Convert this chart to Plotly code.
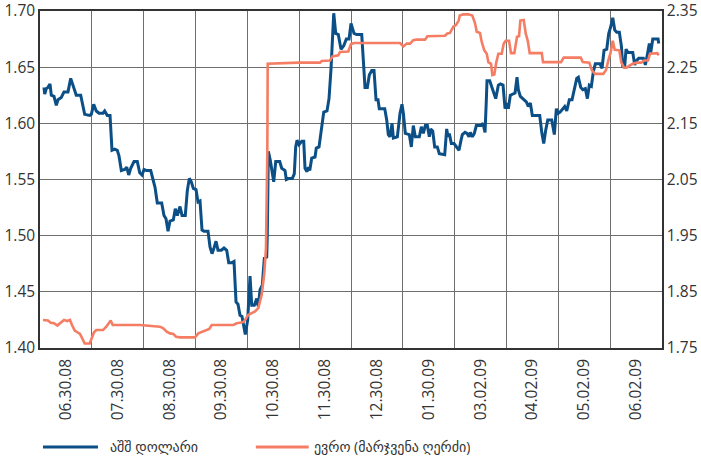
import plotly.graph_objects as go

# x-axis period labels (each label covers one interval of the category-style axis)
period_labels = ["06.30.08", "07.30.08", "08.30.08", "09.30.08", "10.30.08", "11.30.08",
                 "12.30.08", "01.30.09", "03.02.09", "04.02.09", "05.02.09", "06.02.09"]

# USD (left axis): position in periods (0..12) and value
usd_x = [0.077, 0.091, 0.122, 0.154, 0.193, 0.218, 0.270, 0.314, 0.347, 0.411, 0.463, 0.540,
         0.592, 0.637, 0.700, 0.785, 0.862, 0.959, 0.990, 1.036, 1.086, 1.138, 1.216, 1.248,
         1.298, 1.351, 1.389, 1.441, 1.491, 1.524, 1.569, 1.634, 1.673, 1.711, 1.750, 1.814,
         1.877, 1.924, 1.968, 2.007, 2.059, 2.136, 2.186, 2.219, 2.263, 2.348, 2.392, 2.431,
         2.470, 2.508, 2.572, 2.610, 2.649, 2.701, 2.740, 2.803, 2.842, 2.881, 2.919, 2.958,
         3.010, 3.048, 3.087, 3.126, 3.164, 3.241, 3.280, 3.319, 3.357, 3.396, 3.434, 3.498,
         3.550, 3.602, 3.641, 3.704, 3.743, 3.782, 3.820, 3.859, 3.897, 3.936, 3.961, 4.007,
         4.052, 4.085, 4.135, 4.181, 4.212, 4.245, 4.289, 4.328, 4.374, 4.386, 4.405, 4.443,
         4.482, 4.509, 4.548, 4.625, 4.663, 4.727, 4.752, 4.804, 4.868, 4.906, 4.933, 4.959,
         4.997, 5.049, 5.088, 5.113, 5.151, 5.177, 5.204, 5.242, 5.306, 5.331, 5.383, 5.422,
         5.474, 5.537, 5.576, 5.615, 5.640, 5.667, 5.705, 5.755, 5.807, 5.860, 5.910, 5.962,
         6.000, 6.058, 6.110, 6.207, 6.238, 6.270, 6.315, 6.353, 6.400, 6.444, 6.483, 6.521,
         6.546, 6.651, 6.689, 6.720, 6.753, 6.792, 6.817, 6.894, 6.946, 6.984, 7.010, 7.048,
         7.125, 7.164, 7.202, 7.241, 7.318, 7.357, 7.395, 7.434, 7.473, 7.511, 7.538, 7.577,
         7.615, 7.665, 7.704, 7.808, 7.846, 7.872, 7.897, 7.936, 7.988, 8.040, 8.084, 8.123,
         8.148, 8.200, 8.238, 8.277, 8.302, 8.341, 8.379, 8.418, 8.509, 8.547, 8.586, 8.611,
         8.624, 8.676, 8.715, 8.754, 8.792, 8.843, 8.881, 8.933, 8.972, 9.010, 9.035, 9.074,
         9.165, 9.203, 9.228, 9.267, 9.344, 9.383, 9.421, 9.460, 9.498, 9.641, 9.680, 9.718,
         9.757, 9.796, 9.873, 9.923, 9.962, 10.000, 10.033, 10.085, 10.123, 10.162, 10.212, 10.264,
         10.303, 10.355, 10.386, 10.432, 10.471, 10.521, 10.560, 10.598, 10.637, 10.676, 10.714, 10.805,
         10.843, 10.882, 10.934, 10.972, 11.011, 11.050, 11.088, 11.127, 11.177, 11.216, 11.243, 11.281,
         11.306, 11.345, 11.436, 11.474, 11.513, 11.551, 11.640, 11.679, 11.717, 11.756, 11.783, 11.822,
         11.924, 11.937]
usd_y = [1.632, 1.626, 1.631, 1.632, 1.635, 1.625, 1.624, 1.616, 1.621, 1.623, 1.628, 1.628,
         1.640, 1.633, 1.625, 1.625, 1.608, 1.607, 1.608, 1.617, 1.611, 1.609, 1.609, 1.611,
         1.607, 1.607, 1.576, 1.577, 1.576, 1.571, 1.558, 1.559, 1.561, 1.554, 1.560, 1.566,
         1.566, 1.556, 1.554, 1.559, 1.558, 1.558, 1.549, 1.543, 1.529, 1.529, 1.518, 1.515,
         1.504, 1.513, 1.514, 1.524, 1.518, 1.526, 1.518, 1.518, 1.540, 1.551, 1.548, 1.542,
         1.541, 1.530, 1.531, 1.505, 1.504, 1.504, 1.490, 1.484, 1.489, 1.495, 1.487, 1.487,
         1.489, 1.487, 1.476, 1.476, 1.477, 1.441, 1.439, 1.429, 1.428, 1.420, 1.412, 1.425,
         1.464, 1.438, 1.438, 1.444, 1.437, 1.452, 1.456, 1.480, 1.481, 1.502, 1.575, 1.567,
         1.557, 1.548, 1.566, 1.566, 1.560, 1.558, 1.550, 1.551, 1.551, 1.555, 1.579, 1.585,
         1.581, 1.584, 1.584, 1.560, 1.557, 1.561, 1.558, 1.569, 1.570, 1.578, 1.579, 1.591,
         1.610, 1.611, 1.622, 1.649, 1.674, 1.698, 1.680, 1.679, 1.666, 1.669, 1.675, 1.675,
         1.689, 1.680, 1.679, 1.679, 1.656, 1.632, 1.632, 1.643, 1.647, 1.647, 1.621, 1.621,
         1.613, 1.613, 1.603, 1.590, 1.588, 1.600, 1.587, 1.588, 1.609, 1.617, 1.609, 1.591,
         1.590, 1.579, 1.598, 1.588, 1.588, 1.597, 1.591, 1.598, 1.598, 1.588, 1.595, 1.593,
         1.579, 1.579, 1.573, 1.572, 1.595, 1.588, 1.591, 1.582, 1.582, 1.579, 1.576, 1.585,
         1.590, 1.592, 1.591, 1.588, 1.592, 1.588, 1.591, 1.598, 1.598, 1.600, 1.592, 1.621,
         1.638, 1.638, 1.633, 1.627, 1.622, 1.634, 1.635, 1.634, 1.613, 1.618, 1.613, 1.625,
         1.627, 1.641, 1.630, 1.624, 1.621, 1.619, 1.615, 1.618, 1.607, 1.607, 1.592, 1.582,
         1.594, 1.603, 1.603, 1.590, 1.613, 1.609, 1.610, 1.613, 1.615, 1.611, 1.621, 1.621,
         1.630, 1.640, 1.641, 1.632, 1.630, 1.631, 1.622, 1.634, 1.633, 1.646, 1.653, 1.653,
         1.649, 1.665, 1.666, 1.680, 1.686, 1.694, 1.683, 1.681, 1.681, 1.669, 1.651, 1.651,
         1.666, 1.663, 1.663, 1.652, 1.656, 1.658, 1.658, 1.652, 1.661, 1.671, 1.663, 1.675,
         1.675, 1.671]

# EUR (right axis)
eur_x = [0.058, 0.154, 0.206, 0.270, 0.334, 0.399, 0.463, 0.527, 0.579, 0.617, 0.670, 0.720,
         0.772, 0.810, 0.862, 0.959, 0.990, 1.042, 1.086, 1.216, 1.279, 1.325, 1.364, 1.403,
         1.929, 2.315, 2.379, 2.444, 2.508, 2.572, 2.624, 2.701, 2.991, 3.054, 3.139, 3.203,
         3.266, 3.313, 3.730, 3.795, 3.922, 3.955, 4.019, 4.085, 4.148, 4.212, 4.277, 4.328,
         4.360, 4.386, 4.393, 4.984, 5.402, 5.435, 5.595, 5.640, 5.755, 5.788, 5.948, 6.000,
         6.064, 6.946, 7.010, 7.075, 7.139, 7.202, 7.268, 7.428, 7.473, 7.814, 7.858, 7.910,
         7.974, 8.026, 8.078, 8.098, 8.167, 8.264, 8.341, 8.393, 8.426, 8.489, 8.522, 8.572,
         8.619, 8.650, 8.702, 8.727, 8.765, 8.804, 8.843, 8.908, 8.947, 8.985, 9.049, 9.087,
         9.151, 9.203, 9.242, 9.267, 9.332, 9.371, 9.410, 9.448, 9.680, 9.705, 10.052, 10.104,
         10.432, 10.471, 10.598, 10.645, 10.708, 10.868, 10.920, 10.965, 11.011, 11.050, 11.088, 11.177,
         11.216, 11.268, 11.319, 11.358, 11.436, 11.513, 11.601, 11.653, 11.730, 11.769, 11.846, 11.910,
         11.937]
eur_y = [1.800, 1.799, 1.795, 1.794, 1.790, 1.795, 1.800, 1.798, 1.800, 1.791, 1.781, 1.778,
         1.775, 1.768, 1.758, 1.758, 1.765, 1.778, 1.782, 1.782, 1.788, 1.794, 1.799, 1.791,
         1.791, 1.788, 1.785, 1.779, 1.776, 1.775, 1.770, 1.769, 1.769, 1.776, 1.779, 1.781,
         1.784, 1.791, 1.791, 1.794, 1.796, 1.800, 1.809, 1.812, 1.815, 1.821, 1.845, 1.884,
         1.928, 2.103, 2.256, 2.258, 2.258, 2.261, 2.262, 2.269, 2.271, 2.277, 2.278, 2.291,
         2.293, 2.293, 2.287, 2.292, 2.292, 2.298, 2.299, 2.299, 2.305, 2.306, 2.310, 2.311,
         2.322, 2.325, 2.333, 2.342, 2.344, 2.344, 2.342, 2.328, 2.313, 2.311, 2.295, 2.280,
         2.274, 2.259, 2.256, 2.236, 2.237, 2.259, 2.274, 2.274, 2.292, 2.297, 2.297, 2.275,
         2.275, 2.304, 2.305, 2.333, 2.334, 2.310, 2.297, 2.275, 2.275, 2.259, 2.259, 2.267,
         2.267, 2.259, 2.258, 2.245, 2.238, 2.238, 2.245, 2.262, 2.277, 2.297, 2.281, 2.280,
         2.258, 2.249, 2.249, 2.252, 2.256, 2.258, 2.258, 2.262, 2.262, 2.274, 2.274, 2.275,
         2.271]

usd_name = "აშშ დოლარი"
eur_name = "ევრო (მარჯვენა ღერძი)"

BLUE = "#0b4f86"
ORANGE = "#f47d64"
GRID = "#6e6e6e"
TEXT = "#333333"
FONT = "Open Sans, DejaVu Sans, sans-serif"
TICK_SIZE = 15.5

fig = go.Figure()
fig.add_trace(go.Scatter(x=eur_x, y=eur_y, name=eur_name, mode="lines",
                         line=dict(color=ORANGE, width=2.6), yaxis="y2"))
fig.add_trace(go.Scatter(x=usd_x, y=usd_y, name=usd_name, mode="lines",
                         line=dict(color=BLUE, width=3), yaxis="y"))

fig.update_layout(
    width=701, height=459,
    margin=dict(l=40, r=39, t=11, b=111, autoexpand=False),
    paper_bgcolor="white", plot_bgcolor="white",
    showlegend=False,
    font=dict(family=FONT, size=14, color=TEXT),
    xaxis=dict(
        range=[0, 12], tickmode="array", automargin=False,
        tickvals=[i + 0.5 for i in range(len(period_labels))],
        ticktext=period_labels, tickangle=-90, ticklabelstandoff=3,
        showgrid=False, zeroline=False, ticks="",
        showline=True, linecolor="#333333", linewidth=1.5, mirror=True,
        minor=dict(tick0=0, dtick=1, showgrid=True, gridcolor=GRID, gridwidth=1.4, ticks=""),
        tickfont=dict(size=TICK_SIZE, color=TEXT),
    ),
    yaxis=dict(
        range=[1.40, 1.70], dtick=0.05, tick0=1.40, tickformat=".2f", automargin=False,
        ticklabeloverflow="allow",
        showgrid=True, gridcolor=GRID, gridwidth=1.4, zeroline=False,
        showline=True, linecolor="#333333", linewidth=1.5, ticks="",
        tickfont=dict(size=TICK_SIZE, color=TEXT),
    ),
    yaxis2=dict(
        range=[1.75, 2.35], dtick=0.1, tick0=1.75, tickformat=".2f", automargin=False,
        ticklabeloverflow="allow",
        overlaying="y", side="right", showgrid=False, zeroline=False,
        showline=True, linecolor="#333333", linewidth=1.5, ticks="",
        tickfont=dict(size=TICK_SIZE, color=TEXT),
    ),
)

# legend drawn below the plot
leg_y = -0.294
fig.add_shape(type="line", xref="paper", yref="paper", x0=0.0048, x1=0.0932, y0=leg_y, y1=leg_y,
              line=dict(color=BLUE, width=3))
fig.add_shape(type="line", xref="paper", yref="paper", x0=0.347, x1=0.432, y0=leg_y, y1=leg_y,
              line=dict(color=ORANGE, width=3))
fig.add_annotation(xref="paper", yref="paper", x=0.109, y=-0.29, text=usd_name, showarrow=False,
                   xanchor="left", yanchor="middle", height=24, font=dict(size=14, color=TEXT))
fig.add_annotation(xref="paper", yref="paper", x=0.437, y=-0.29, text=eur_name, showarrow=False,
                   xanchor="left", yanchor="middle", height=24, font=dict(size=14, color=TEXT))

fig.write_html("out.html", config={"displayModeBar": False},
               post_script="document.body.style.margin='0px';")
